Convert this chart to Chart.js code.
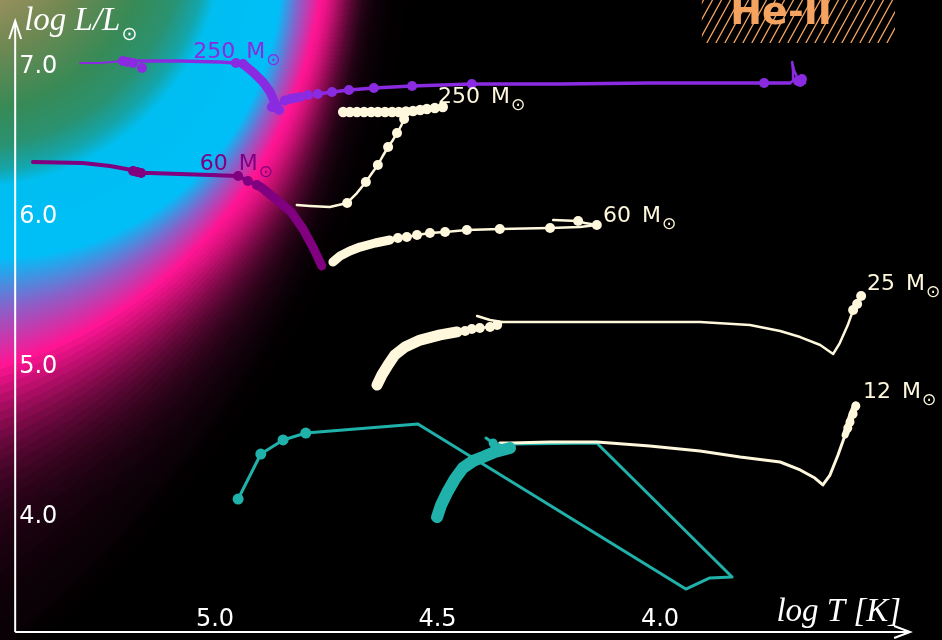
<!DOCTYPE html>
<html>
<head>
<meta charset="utf-8">
<script src="https://cdn.jsdelivr.net/npm/chart.js@4.4.1/dist/chart.umd.min.js"></script>
<style>
  html, body { margin: 0; padding: 0; background: #000; }
  canvas { display: block; }
</style>
</head>
<body>
<canvas id="hrd" width="942" height="640"></canvas>
<script>
// Evolutionary tracks in the HR diagram: log T_eff [K] and log L/Lsun.

// 250 Msun, violet track
const v250StartT = [5.303, 5.258, 5.207];
const v250StartL = [7.020, 7.020, 7.033];
const v250MainT = [5.207, 5.169, 5.079, 4.989, 4.953, 4.937];
const v250MainL = [7.033, 7.033, 7.033, 7.027, 7.020, 7.013];
const v250BendT = [4.937, 4.915, 4.892, 4.876, 4.865, 4.861];
const v250BendL = [7.013, 6.960, 6.893, 6.827, 6.753, 6.720];
const v250RedT = [4.861, 4.847, 4.831, 4.809, 4.791, 4.769, 4.737, 4.699, 4.643, 4.557, 4.423, 4.225, 4.023, 3.766, 3.708];
const v250RedL = [6.720, 6.767, 6.780, 6.793, 6.807, 6.813, 6.827, 6.840, 6.853, 6.867, 6.880, 6.880, 6.887, 6.887, 6.887];
const v250TailT = [3.708, 3.699, 3.701, 3.703, 3.699, 3.692, 3.685, 3.676, 3.674, 3.690];
const v250TailL = [6.887, 6.907, 6.960, 7.027, 6.973, 6.927, 6.907, 6.913, 6.887, 6.880];
const v250DotT = [5.207, 5.196, 5.184, 5.164, 4.953, 4.937, 4.872, 4.856, 4.843, 4.831, 4.820, 4.809, 4.791, 4.769, 4.737, 4.699, 4.643, 4.557, 4.423, 3.766, 3.685, 3.681, 3.690];
const v250DotL = [7.033, 7.027, 7.020, 6.987, 7.020, 7.013, 6.727, 6.707, 6.770, 6.780, 6.787, 6.793, 6.807, 6.813, 6.827, 6.840, 6.853, 6.867, 6.880, 6.887, 6.893, 6.913, 6.900];

// 60 Msun, plum track
const p60LineT = [5.409, 5.297, 5.236, 5.187, 5.169, 5.146, 5.079, 5.011, 4.948, 4.926, 4.906];
const p60LineL = [6.360, 6.353, 6.333, 6.307, 6.287, 6.287, 6.280, 6.273, 6.267, 6.233, 6.207];
const p60BendT = [4.906, 4.894, 4.861, 4.829, 4.802, 4.780, 4.760];
const p60BendL = [6.207, 6.187, 6.107, 6.027, 5.913, 5.793, 5.667];
const p60DotT = [5.184, 5.175, 5.166, 4.948, 4.926, 4.906];
const p60DotL = [6.300, 6.293, 6.287, 6.267, 6.233, 6.207];

// 250 Msun, cream track
const c250ClimbT = [4.816, 4.787, 4.742, 4.703, 4.681, 4.661, 4.647, 4.634, 4.623, 4.611, 4.600, 4.591, 4.582, 4.575, 4.566, 4.539, 4.506, 4.488];
const c250ClimbL = [6.073, 6.067, 6.060, 6.087, 6.153, 6.227, 6.287, 6.340, 6.400, 6.460, 6.507, 6.553, 6.600, 6.647, 6.693, 6.707, 6.720, 6.727];
const c250RowT = [4.712, 4.697, 4.681, 4.665, 4.649, 4.634, 4.618, 4.602, 4.587, 4.571, 4.555, 4.539, 4.524, 4.506, 4.488];
const c250RowL = [6.693, 6.693, 6.693, 6.693, 6.693, 6.693, 6.693, 6.693, 6.693, 6.697, 6.700, 6.707, 6.713, 6.720, 6.727];
const c250DotT = [4.703, 4.661, 4.634, 4.611, 4.591, 4.575];
const c250DotL = [6.087, 6.227, 6.340, 6.460, 6.553, 6.647];

// 60 Msun, cream track
const c60StartT = [4.735, 4.719, 4.697, 4.674, 4.640, 4.607];
const c60StartL = [5.693, 5.733, 5.767, 5.793, 5.820, 5.840];
const c60LineT = [4.607, 4.589, 4.569, 4.546, 4.517, 4.483, 4.434, 4.360, 4.247, 4.180, 4.142, 4.169, 4.184, 4.240];
const c60LineL = [5.840, 5.853, 5.860, 5.873, 5.887, 5.893, 5.907, 5.913, 5.920, 5.927, 5.940, 5.953, 5.967, 5.973];
const c60DotT = [4.589, 4.569, 4.546, 4.517, 4.483, 4.434, 4.360, 4.247, 4.184, 4.142];
const c60DotL = [5.853, 5.860, 5.873, 5.887, 5.893, 5.907, 5.913, 5.920, 5.967, 5.940];

// 25 Msun, cream track
const c25StartT = [4.636, 4.625, 4.611, 4.596, 4.573, 4.539, 4.494, 4.456];
const c25StartL = [4.873, 4.940, 5.007, 5.073, 5.127, 5.173, 5.207, 5.227];
const c25HookT = [4.411, 4.382, 4.355];
const c25HookL = [5.333, 5.307, 5.293];
const c25LineT = [4.456, 4.438, 4.423, 4.405, 4.382, 4.366, 4.355, 4.202, 4.023, 3.910, 3.798, 3.730, 3.685, 3.640, 3.611, 3.596, 3.578, 3.566, 3.560, 3.548];
const c25LineL = [5.227, 5.233, 5.247, 5.253, 5.260, 5.273, 5.293, 5.293, 5.293, 5.293, 5.273, 5.233, 5.193, 5.140, 5.080, 5.153, 5.273, 5.373, 5.427, 5.467];
const c25DotT = [4.456, 4.438, 4.423, 4.405, 4.382, 4.366, 3.566, 3.557, 3.548];
const c25DotL = [5.227, 5.233, 5.247, 5.253, 5.260, 5.273, 5.373, 5.413, 5.467];

// 12 Msun, cream track
const c12LineT = [4.360, 4.337, 4.247, 4.142, 4.023, 3.910, 3.820, 3.730, 3.685, 3.652, 3.634, 3.618, 3.600, 3.584];
const c12LineL = [4.487, 4.487, 4.493, 4.493, 4.467, 4.433, 4.393, 4.360, 4.307, 4.253, 4.207, 4.273, 4.407, 4.540];
const c12TopT = [3.584, 3.578, 3.569, 3.560];
const c12TopL = [4.540, 4.587, 4.673, 4.740];
const c12DotT = [3.578, 3.573, 3.566, 3.560];
const c12DotL = [4.587, 4.627, 4.680, 4.733];

// 12 Msun, teal tracks
const tealAT = [4.948, 4.897, 4.847, 4.796, 4.544, 3.942, 3.888, 3.838, 4.142, 4.333];
const tealAL = [4.113, 4.413, 4.507, 4.553, 4.613, 3.513, 3.587, 3.593, 4.487, 4.480];
const tealADotT = [4.948, 4.897, 4.847, 4.796];
const tealADotL = [4.113, 4.413, 4.507, 4.553];
const tealBT = [4.501, 4.492, 4.479, 4.461, 4.443, 4.420, 4.398, 4.371, 4.337];
const tealBL = [3.993, 4.073, 4.153, 4.247, 4.320, 4.367, 4.393, 4.427, 4.453];
const tealHookT = [4.337, 4.360, 4.375, 4.391];
const tealHookL = [4.453, 4.473, 4.487, 4.520];
const tealHookDotT = [4.375];
const tealHookDotL = [4.487];

// Axis ticks and track labels
const xTicks = [5.0, 4.5, 4.0];
const yTicks = [4.0, 5.0, 6.0, 7.0];
const labelMass = ['250', '60', '250', '60', '25', '12'];
const labelT = [5.049, 5.034, 4.499, 4.128, 3.535, 3.544];
const labelL = [7.053, 6.307, 6.753, 5.960, 5.507, 4.787];

const VIOLET = '#8a2be2', PLUM = '#800080', CREAM = '#fff8dc', TEAL = '#20b2aa', SAND = '#f4a460';
const labelColor = [VIOLET, PLUM, CREAM, CREAM, CREAM, CREAM];

// Diagram window
const T_LEFT = 5.4831, T_RIGHT = 3.3663, L_BOTTOM = 3.1733, L_TOP = 7.44;
const AXIS_T = 5.449, AXIS_L = 3.227, ARROW_L = 7.30, ARROW_T = 3.438;

// He II ionising-flux glow: nested elliptical rings in (log T, log L)
const ringInner = { T: 5.557, L: 7.920, aT: 0.548, aL: 1.627 };
const ringCyan  = { T: 5.483, L: 7.593, aT: 0.629, aL: 1.867 };
const ringPeak  = { T: 5.764, L: 7.887, aT: 1.011, aL: 3.000 };
const ringOuter = { T: 6.892, L: 8.420, aT: 2.265, aL: 6.720 };

const innerStops = [[-0.40, [160, 146, 96]], [-0.27, [112, 136, 82]], [-0.135, [55, 138, 86]], [-0.056, [42, 146, 112]], [0, [20, 165, 170]]];
const cyanStops  = [[0, [20, 165, 170]], [0.18, [0, 190, 240]], [1, [0, 191, 248]]];
const pinkStops  = [[0, [0, 191, 248]], [0.5, [140, 95, 200]], [1, [255, 20, 147]]];
const PINK = [255, 20, 147];

function ringGap(r, T, L) {
  const u = (T - r.T) / r.aT, v = (L - r.L) / r.aL;
  return (Math.sqrt(u * u + v * v) - 1) * r.aT;
}
function ramp(stops, s) {
  if (s <= stops[0][0]) return stops[0][1];
  for (let i = 1; i < stops.length; i++) {
    if (s <= stops[i][0]) {
      const [s0, c0] = stops[i - 1], [s1, c1] = stops[i];
      const f = (s - s0) / (s1 - s0);
      return [c0[0] + (c1[0] - c0[0]) * f, c0[1] + (c1[1] - c0[1]) * f, c0[2] + (c1[2] - c0[2]) * f];
    }
  }
  return stops[stops.length - 1][1];
}
function glowColor(T, L) {
  const q1 = ringGap(ringInner, T, L);
  if (q1 <= 0) return ramp(innerStops, q1);
  const qc = ringGap(ringCyan, T, L);
  if (qc <= 0) return ramp(cyanStops, q1 / (q1 - qc));
  const q2 = ringGap(ringPeak, T, L);
  if (q2 <= 0) return ramp(pinkStops, qc / (qc - q2));
  const q3 = ringGap(ringOuter, T, L);
  const c = Math.min(1, Math.max(0, (6.107 - L) / 2));
  const a = 0.4 + 2.4 * c, b = 2 - 1.4 * c;
  let I;
  if (q3 < 0) {
    let t = q2 / (q2 - q3);
    t = Math.round(t * 26) / 26;
    I = Math.exp(-a * t - b * t * t);
  } else {
    I = Math.exp(-a - b) * Math.exp(-q3 / 0.03);
  }
  return [PINK[0] * I, PINK[1] * I, PINK[2] * I];
}

function pts(T, L) { return T.map((t, i) => ({ x: t, y: L[i] })); }
function track(T, L, color, width) {
  return { data: pts(T, L), showLine: true, borderColor: color, borderWidth: width, pointRadius: 0,
           pointHoverRadius: 0, borderCapStyle: 'round', borderJoinStyle: 'round', tension: 0, fill: false };
}
function beads(T, L, color, r) {
  return { data: pts(T, L), showLine: false, pointRadius: r, pointHoverRadius: r, pointBackgroundColor: color,
           pointBorderColor: color, pointBorderWidth: 0 };
}

// Painting order: first entry lies lowest
const layers = [
  track(tealAT, tealAL, TEAL, 3),
  beads(tealADotT, tealADotL, TEAL, 5.5),
  track(c12LineT, c12LineL, CREAM, 3),
  track(c12TopT, c12TopL, CREAM, 7),
  beads(c12DotT, c12DotL, CREAM, 4.5),
  track(tealBT, tealBL, TEAL, 12),
  track(tealHookT, tealHookL, TEAL, 3),
  beads(tealHookDotT, tealHookDotL, TEAL, 4.5),
  track(c25LineT, c25LineL, CREAM, 2.5),
  track(c25HookT, c25HookL, CREAM, 2.5),
  track(c25StartT, c25StartL, CREAM, 11),
  beads(c25DotT, c25DotL, CREAM, 5),
  track(c60LineT, c60LineL, CREAM, 2.5),
  track(c60StartT, c60StartL, CREAM, 9),
  beads(c60DotT, c60DotL, CREAM, 5),
  track(c250ClimbT, c250ClimbL, CREAM, 2.5),
  beads(c250DotT, c250DotL, CREAM, 5),
  beads(c250RowT, c250RowL, CREAM, 5.2),
  track(p60LineT, p60LineL, PLUM, 4),
  track(p60BendT, p60BendL, PLUM, 9),
  beads(p60DotT, p60DotL, PLUM, 5),
  track(v250StartT, v250StartL, VIOLET, 2),
  track(v250MainT, v250MainL, VIOLET, 3.5),
  track(v250BendT, v250BendL, VIOLET, 9),
  track(v250RedT, v250RedL, VIOLET, 3.5),
  track(v250TailT, v250TailL, VIOLET, 2.5),
  beads(v250DotT, v250DotL, VIOLET, 5),
];
layers.forEach((d, i) => { d.order = layers.length - i; });

let glowImage = null;
const glowPlugin = {
  id: 'heGlow',
  beforeDatasetsDraw(chart) {
    const { ctx, chartArea: a, scales: { x, y } } = chart;
    const w = Math.round(a.right - a.left), h = Math.round(a.bottom - a.top);
    if (!glowImage) {
      glowImage = ctx.createImageData(w, h);
      const px = glowImage.data;
      for (let j = 0; j < h; j++) {
        const L = y.getValueForPixel(a.top + j + 0.5);
        for (let i = 0; i < w; i++) {
          const T = x.getValueForPixel(a.left + i + 0.5);
          const c = glowColor(T, L);
          const k = (j * w + i) * 4;
          px[k] = c[0]; px[k + 1] = c[1]; px[k + 2] = c[2]; px[k + 3] = 255;
        }
      }
    }
    ctx.putImageData(glowImage, Math.round(a.left), Math.round(a.top));
  }
};

function massLabel(ctx, mass, X, Y, color) {
  ctx.fillStyle = color;
  ctx.textAlign = 'left';
  ctx.textBaseline = 'alphabetic';
  ctx.font = '22px "DejaVu Sans"';
  const s = mass + '\u2002M';
  ctx.fillText(s, X, Y);
  const w = ctx.measureText(s).width;
  ctx.font = '17px "DejaVu Sans"';
  ctx.fillText('\u2299', X + w + 1, Y + 7);
}

const framePlugin = {
  id: 'hrdFrame',
  afterDatasetsDraw(chart) {
    const { ctx, scales: { x, y } } = chart;
    ctx.save();
    const ax = x.getPixelForValue(AXIS_T), ay = y.getPixelForValue(AXIS_L);
    const topY = y.getPixelForValue(ARROW_L), rightX = x.getPixelForValue(ARROW_T);
    ctx.strokeStyle = '#ffffff';
    ctx.lineWidth = 2;
    ctx.lineCap = 'butt';
    ctx.beginPath();
    ctx.moveTo(ax, ay); ctx.lineTo(ax, topY);
    ctx.moveTo(ax, ay); ctx.lineTo(rightX, ay);
    ctx.stroke();
    ctx.beginPath();
    ctx.moveTo(ax - 6, topY + 18); ctx.lineTo(ax, topY); ctx.lineTo(ax + 6, topY + 18);
    ctx.moveTo(rightX - 16, ay - 6); ctx.lineTo(rightX, ay); ctx.lineTo(rightX - 16, ay + 6);
    ctx.stroke();

    // tick labels
    ctx.fillStyle = '#ffffff';
    ctx.font = '24px "DejaVu Sans"';
    ctx.textAlign = 'left';
    ctx.textBaseline = 'middle';
    yTicks.forEach(v => ctx.fillText(v.toFixed(1), ax + 4, y.getPixelForValue(v) + 1));
    ctx.textAlign = 'center';
    ctx.textBaseline = 'alphabetic';
    xTicks.forEach(v => ctx.fillText(v.toFixed(1), x.getPixelForValue(v), ay - 6));

    // axis titles
    ctx.font = 'italic 33px "Liberation Serif"';
    ctx.textAlign = 'left';
    ctx.fillText('log L/L', ax + 9, topY + 9);
    const tw = ctx.measureText('log L/L').width;
    ctx.font = '19px "DejaVu Sans"';
    ctx.fillText('\u2299', ax + 9 + tw + 1, topY + 19);
    ctx.font = 'italic 33px "Liberation Serif"';
    ctx.textAlign = 'right';
    ctx.fillText('log T [K]', rightX - 9, ay - 11);

    // track labels
    labelMass.forEach((m, i) => massLabel(ctx, m, x.getPixelForValue(labelT[i]), y.getPixelForValue(labelL[i]), labelColor[i]));

    // He II zone marker
    const bx0 = x.getPixelForValue(3.906), bx1 = x.getPixelForValue(3.472);
    const by1 = y.getPixelForValue(7.153), by0 = 0;
    ctx.save();
    ctx.beginPath();
    ctx.rect(bx0, by0, bx1 - bx0, by1 - by0);
    ctx.clip();
    ctx.strokeStyle = SAND;
    ctx.lineWidth = 1.3;
    ctx.beginPath();
    for (let sx = bx0 - 40; sx < bx1 + 10; sx += 9) {
      ctx.moveTo(sx, by1);
      ctx.lineTo(sx + (by1 - by0) * 0.55, by0);
    }
    ctx.stroke();
    ctx.restore();
    ctx.fillStyle = SAND;
    ctx.font = 'bold 38px "DejaVu Sans"';
    ctx.textAlign = 'left';
    ctx.fillText('He-II', x.getPixelForValue(3.842), y.getPixelForValue(7.28));
    ctx.restore();
  }
};

new Chart(document.getElementById('hrd'), {
  type: 'scatter',
  data: { datasets: layers },
  options: {
    responsive: false,
    animation: false,
    devicePixelRatio: 1,
    layout: { padding: 0, autoPadding: false },
    events: [],
    plugins: { legend: { display: false }, tooltip: { enabled: false } },
    scales: {
      x: { type: 'linear', reverse: true, min: T_RIGHT, max: T_LEFT, display: false },
      y: { type: 'linear', min: L_BOTTOM, max: L_TOP, display: false }
    }
  },
  plugins: [glowPlugin, framePlugin]
});
</script>
</body>
</html>
